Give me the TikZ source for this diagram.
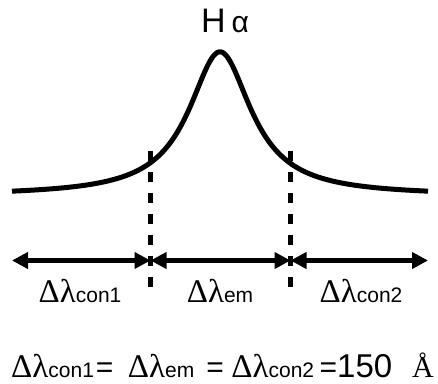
\documentclass[tikz,border=0pt]{standalone}
\usepackage{fontspec}
\setmainfont{Liberation Sans}
\newfontfamily\grkfont{Liberation Serif}
\usetikzlibrary{arrows.meta, positioning}
\newcommand{\fsz}[1]{\fontsize{#1}{#1}\selectfont}
\newcommand{\dlam}[1]{{\fsz{33}\grkfont Δλ}{\fsz{21}#1}}
\newcommand{\eqsign}{{\fsz{30}=}}

\begin{document}
\begin{tikzpicture}[x=1pt, y=-1pt,
    thk/.style={line width=5pt},
    cutline/.style={line width=5pt, dash pattern=on 10pt off 11pt},
    span/.style={line width=5pt, {Triangle[length=16pt,width=16pt]}-{Triangle[length=16pt,width=16pt]}},
    lbl/.style={anchor=base, inner sep=0pt}]
    \useasboundingbox (0,0) rectangle (438,383);
    % line profile
    \draw[thk] plot[domain=12:428, samples=240] (\x, {195.8 - 144/(1+((\x-220)/38)^2)});
    \node[lbl, font=\fsz{34}] (halpha) at (225,32) {H\kern6pt{\fsz{30}α}};
    % window borders
    \coordinate (b1top) at (150.5,151);
    \coordinate (b1bot) at (150.5,287);
    \coordinate (b2top) at (290.5,151);
    \coordinate (b2bot) at (290.5,287);
    \draw[cutline] (b1top) -- (b1bot);
    \draw[cutline] (b2top) -- (b2bot);
    % windows
    \coordinate (lend) at (12,260.5);
    \coordinate (b1) at (150.5,260.5);
    \coordinate (b2) at (290.5,260.5);
    \coordinate (rend) at (428,260.5);
    \draw[span] (lend) -- (b1);
    \draw[span] (b1) -- (b2);
    \draw[span] (b2) -- (rend);
    \node[lbl] (con1) at (80,302) {\dlam{con1}};
    \node[lbl] (em) at (220,302) {\dlam{em}};
    \node[lbl] (con2) at (361,302) {\dlam{con2}};
    \node[lbl, anchor=base west] (eqn) at (11,377) {\dlam{con1}\kern2pt\eqsign\kern14.5pt\dlam{em}\kern12pt\eqsign\kern7.5pt\dlam{con2}\kern5.5pt\eqsign{\fsz{33}150}\kern20pt{\fsz{30}\grkfont Å}};
\end{tikzpicture}
\end{document}
